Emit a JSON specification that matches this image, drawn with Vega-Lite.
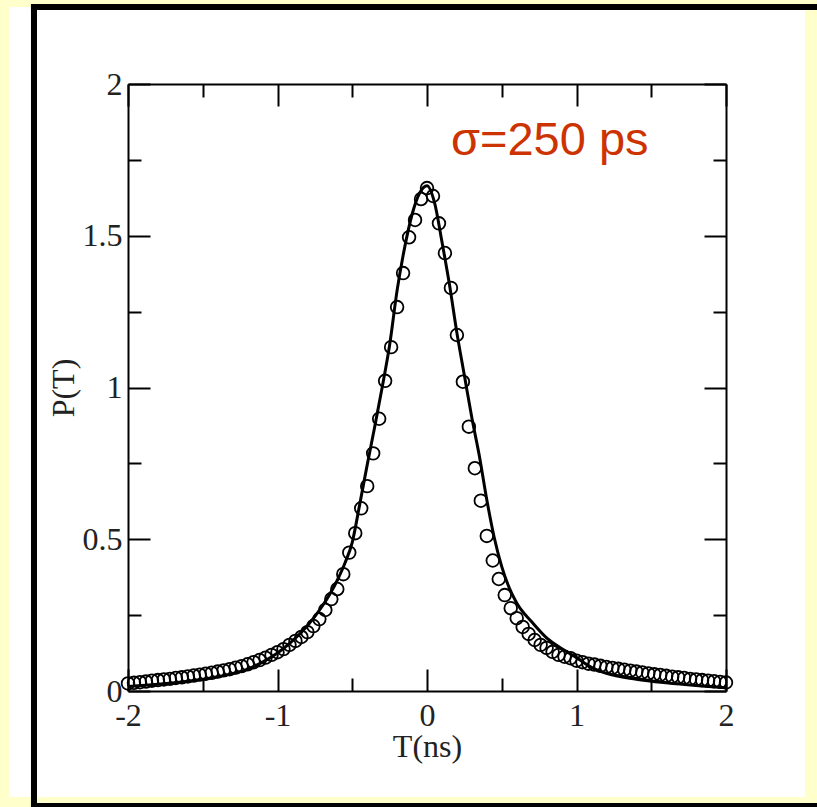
{
  "$schema": "https://vega.github.io/schema/vega-lite/v6.json",
  "autosize": {"type": "none"},
  "width": 598,
  "height": 607,
  "padding": {"left": 128, "top": 84, "right": 91, "bottom": 116},
  "background": "#FFFFCC",
  "config": {
    "view": {"stroke": null},
    "axis": {"grid": false, "domainColor": "#000", "domainWidth": 2, "tickColor": "#000", "tickWidth": 2, "labelFont": "Liberation Serif", "labelFontSize": 32, "labelColor": "#222", "titleFont": "Liberation Serif", "titleFontSize": 32, "titleColor": "#222", "titleFontWeight": "normal"}
  },
  "datasets": {
    "fit": [
      {"t": -2.0, "p": 0.015}, {"t": -1.8, "p": 0.022}, {"t": -1.6, "p": 0.032}, {"t": -1.4, "p": 0.047},
      {"t": -1.2, "p": 0.072}, {"t": -1.1, "p": 0.095}, {"t": -1.0, "p": 0.125}, {"t": -0.9, "p": 0.165},
      {"t": -0.8, "p": 0.215}, {"t": -0.7, "p": 0.28}, {"t": -0.6, "p": 0.365}, {"t": -0.55, "p": 0.42},
      {"t": -0.5, "p": 0.49}, {"t": -0.45, "p": 0.615}, {"t": -0.4, "p": 0.745}, {"t": -0.35, "p": 0.87},
      {"t": -0.3, "p": 1.0}, {"t": -0.25, "p": 1.14}, {"t": -0.2, "p": 1.32}, {"t": -0.15, "p": 1.46},
      {"t": -0.1, "p": 1.57}, {"t": -0.05, "p": 1.64}, {"t": 0.0, "p": 1.665}, {"t": 0.05, "p": 1.61},
      {"t": 0.1, "p": 1.48}, {"t": 0.15, "p": 1.34}, {"t": 0.2, "p": 1.18}, {"t": 0.25, "p": 1.04},
      {"t": 0.3, "p": 0.9}, {"t": 0.35, "p": 0.775}, {"t": 0.4, "p": 0.63}, {"t": 0.45, "p": 0.505},
      {"t": 0.5, "p": 0.41}, {"t": 0.55, "p": 0.34}, {"t": 0.6, "p": 0.29}, {"t": 0.7, "p": 0.228},
      {"t": 0.8, "p": 0.175}, {"t": 0.9, "p": 0.14}, {"t": 1.0, "p": 0.11}, {"t": 1.1, "p": 0.078},
      {"t": 1.2, "p": 0.058}, {"t": 1.4, "p": 0.039}, {"t": 1.6, "p": 0.027}, {"t": 1.8, "p": 0.018},
      {"t": 2.0, "p": 0.011}
    ],
    "sim": [
      {"t": -2.00, "p": 0.025}, {"t": -1.96, "p": 0.027}, {"t": -1.92, "p": 0.029}, {"t": -1.88, "p": 0.031},
      {"t": -1.84, "p": 0.034}, {"t": -1.80, "p": 0.036}, {"t": -1.76, "p": 0.038}, {"t": -1.72, "p": 0.040},
      {"t": -1.68, "p": 0.043}, {"t": -1.64, "p": 0.045}, {"t": -1.60, "p": 0.048}, {"t": -1.56, "p": 0.051},
      {"t": -1.52, "p": 0.054}, {"t": -1.48, "p": 0.057}, {"t": -1.44, "p": 0.060}, {"t": -1.40, "p": 0.064},
      {"t": -1.36, "p": 0.068}, {"t": -1.32, "p": 0.072}, {"t": -1.28, "p": 0.077}, {"t": -1.24, "p": 0.082},
      {"t": -1.20, "p": 0.088}, {"t": -1.16, "p": 0.095}, {"t": -1.12, "p": 0.102}, {"t": -1.08, "p": 0.110},
      {"t": -1.04, "p": 0.119}, {"t": -1.00, "p": 0.128}, {"t": -0.96, "p": 0.138}, {"t": -0.92, "p": 0.152},
      {"t": -0.88, "p": 0.165}, {"t": -0.84, "p": 0.178}, {"t": -0.80, "p": 0.194}, {"t": -0.76, "p": 0.214},
      {"t": -0.72, "p": 0.237}, {"t": -0.68, "p": 0.267}, {"t": -0.64, "p": 0.303}, {"t": -0.60, "p": 0.336},
      {"t": -0.56, "p": 0.385}, {"t": -0.52, "p": 0.456}, {"t": -0.48, "p": 0.520}, {"t": -0.44, "p": 0.602},
      {"t": -0.40, "p": 0.675}, {"t": -0.36, "p": 0.783}, {"t": -0.32, "p": 0.897}, {"t": -0.28, "p": 1.022},
      {"t": -0.24, "p": 1.133}, {"t": -0.20, "p": 1.265}, {"t": -0.16, "p": 1.377}, {"t": -0.12, "p": 1.495},
      {"t": -0.08, "p": 1.552}, {"t": -0.04, "p": 1.621}, {"t": 0.00, "p": 1.657}, {"t": 0.04, "p": 1.631},
      {"t": 0.08, "p": 1.541}, {"t": 0.12, "p": 1.443}, {"t": 0.16, "p": 1.328}, {"t": 0.20, "p": 1.173},
      {"t": 0.24, "p": 1.019}, {"t": 0.28, "p": 0.871}, {"t": 0.32, "p": 0.734}, {"t": 0.36, "p": 0.627},
      {"t": 0.40, "p": 0.511}, {"t": 0.44, "p": 0.430}, {"t": 0.48, "p": 0.369}, {"t": 0.52, "p": 0.316},
      {"t": 0.56, "p": 0.273}, {"t": 0.60, "p": 0.240}, {"t": 0.64, "p": 0.211}, {"t": 0.68, "p": 0.188},
      {"t": 0.72, "p": 0.168}, {"t": 0.76, "p": 0.152}, {"t": 0.80, "p": 0.142}, {"t": 0.84, "p": 0.129},
      {"t": 0.88, "p": 0.119}, {"t": 0.92, "p": 0.113}, {"t": 0.96, "p": 0.108}, {"t": 1.00, "p": 0.100},
      {"t": 1.04, "p": 0.095}, {"t": 1.08, "p": 0.090}, {"t": 1.12, "p": 0.087}, {"t": 1.16, "p": 0.083},
      {"t": 1.20, "p": 0.079}, {"t": 1.24, "p": 0.076}, {"t": 1.28, "p": 0.073}, {"t": 1.32, "p": 0.070},
      {"t": 1.36, "p": 0.067}, {"t": 1.40, "p": 0.064}, {"t": 1.44, "p": 0.061}, {"t": 1.48, "p": 0.058},
      {"t": 1.52, "p": 0.055}, {"t": 1.56, "p": 0.053}, {"t": 1.60, "p": 0.050}, {"t": 1.64, "p": 0.047},
      {"t": 1.68, "p": 0.045}, {"t": 1.72, "p": 0.043}, {"t": 1.76, "p": 0.040}, {"t": 1.80, "p": 0.038},
      {"t": 1.84, "p": 0.036}, {"t": 1.88, "p": 0.034}, {"t": 1.92, "p": 0.032}, {"t": 1.96, "p": 0.030},
      {"t": 2.00, "p": 0.028}
    ]
  },
  "resolve": {"axis": {"x": "independent", "y": "independent"}},
  "layer": [
    {
      "data": {"values": [{}]},
      "mark": {"type": "rect", "color": "#FFFFFF"},
      "encoding": {
        "x": {"datum": -2.796, "type": "quantitative", "scale": {"domain": [-2, 2], "nice": false, "zero": false},
              "axis": {"zindex": 2, "orient": "bottom", "values": [-2, -1, 0, 1, 2], "labelExpr": "'' + datum.value", "tickSize": -22, "labelPadding": 31, "title": "T(ns)", "titlePadding": 0, "labelFlush": false, "labelOverlap": false}},
        "x2": {"datum": 2.528},
        "y": {"datum": -0.3493, "type": "quantitative", "scale": {"domain": [0, 2], "nice": false, "zero": false},
              "axis": {"zindex": 2, "orient": "left", "values": [0, 0.5, 1, 1.5, 2], "labelExpr": "'' + datum.value", "tickSize": -22, "labelPadding": 28, "title": "P(T)", "titlePadding": 2, "labelFlush": false, "labelOverlap": false}},
        "y2": {"datum": 2.2537}
      }
    },
    {
      "data": {"values": [{}]},
      "mark": {"type": "rect", "color": "#000000"},
      "encoding": {
        "x": {"datum": -2.649, "type": "quantitative", "scale": {"domain": [-2, 2], "nice": false, "zero": false},
              "axis": {"zindex": 2, "orient": "bottom", "values": [-1.5, -0.5, 0.5, 1.5], "tickSize": -13, "labels": false, "domain": false, "title": null}},
        "x2": {"datum": 3.0},
        "y": {"datum": 2.2438, "type": "quantitative", "scale": {"domain": [0, 2], "nice": false, "zero": false},
              "axis": {"zindex": 2, "orient": "left", "values": [0.25, 0.75, 1.25, 1.75], "tickSize": -13, "labels": false, "domain": false, "title": null}},
        "y2": {"datum": 2.2636}
      }
    },
    {
      "data": {"values": [{}]},
      "mark": {"type": "rect", "color": "#000000"},
      "encoding": {
        "x": {"datum": -2.649, "type": "quantitative", "scale": {"domain": [-2, 2], "nice": false, "zero": false},
              "axis": {"zindex": 2, "orient": "top", "values": [-2, -1, 0, 1, 2], "tickSize": -22, "labels": false, "title": null}},
        "x2": {"datum": -2.6087},
        "y": {"datum": -0.5, "type": "quantitative", "scale": {"domain": [0, 2], "nice": false, "zero": false},
              "axis": {"zindex": 2, "orient": "right", "values": [0, 0.5, 1, 1.5, 2], "tickSize": -22, "labels": false, "title": null}},
        "y2": {"datum": 2.2636}
      }
    },
    {
      "data": {"values": [{}]},
      "mark": {"type": "rect", "color": "#000000"},
      "encoding": {
        "x": {"datum": -2.649, "type": "quantitative", "scale": {"domain": [-2, 2], "nice": false, "zero": false},
              "axis": {"zindex": 2, "orient": "top", "values": [-1.5, -0.5, 0.5, 1.5], "tickSize": -13, "labels": false, "domain": false, "title": null}},
        "x2": {"datum": 3.0},
        "y": {"datum": -0.392, "type": "quantitative", "scale": {"domain": [0, 2], "nice": false, "zero": false},
              "axis": {"zindex": 2, "orient": "right", "values": [0.25, 0.75, 1.25, 1.75], "tickSize": -13, "labels": false, "domain": false, "title": null}},
        "y2": {"datum": -0.369}
      }
    },
    {
      "data": {"name": "fit"},
      "mark": {"type": "line", "color": "#000000", "strokeWidth": 3, "interpolate": "monotone"},
      "encoding": {
        "x": {"field": "t", "type": "quantitative", "scale": {"domain": [-2, 2], "nice": false, "zero": false}, "axis": null},
        "y": {"field": "p", "type": "quantitative", "scale": {"domain": [0, 2], "nice": false, "zero": false}, "axis": null}
      }
    },
    {
      "data": {"name": "sim"},
      "mark": {"type": "point", "shape": "circle", "filled": false, "color": "#000000", "strokeWidth": 1.8, "size": 160, "opacity": 1},
      "encoding": {
        "x": {"field": "t", "type": "quantitative", "scale": {"domain": [-2, 2], "nice": false, "zero": false}, "axis": null},
        "y": {"field": "p", "type": "quantitative", "scale": {"domain": [0, 2], "nice": false, "zero": false}, "axis": null}
      }
    },
    {
      "data": {"values": [{"label": "σ=250 ps"}]},
      "mark": {"type": "text", "align": "left", "baseline": "alphabetic", "font": "Liberation Sans", "fontSize": 47, "color": "#CC3300"},
      "encoding": {
        "x": {"datum": 0.1605, "type": "quantitative", "scale": {"domain": [-2, 2], "nice": false, "zero": false}, "axis": null},
        "y": {"datum": 1.766, "type": "quantitative", "scale": {"domain": [0, 2], "nice": false, "zero": false}, "axis": null},
        "text": {"field": "label"}
      }
    }
  ]
}
